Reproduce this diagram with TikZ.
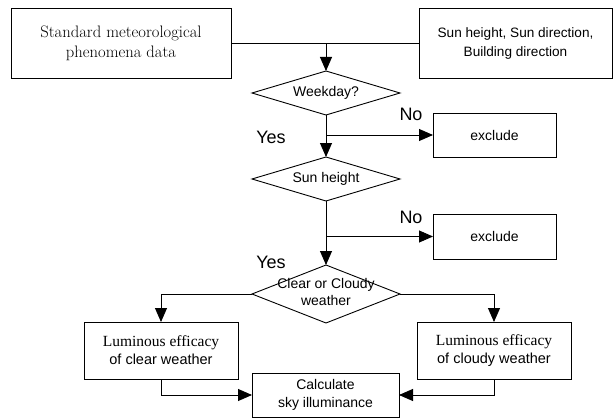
\documentclass[tikz,border=0pt]{standalone}
\usepackage{fontspec}
\newfontfamily\gothic{Liberation Sans}
\newfontfamily\timesface{Liberation Serif}
\usetikzlibrary{shapes.geometric,arrows.meta}

\tikzset{
 box/.style={draw, line width=0.9pt, inner sep=0pt, outer sep=0pt, align=center},
 decision/.style={draw, diamond, aspect=3.4, line width=0.9pt, inner sep=0pt, outer sep=0pt,
  minimum width=148pt, minimum height=44pt, align=center},
 sans/.style={font=\gothic\fontsize{14}{19}\selectfont},
 answer/.style={font=\gothic\fontsize{18}{20}\selectfont, inner sep=0pt},
 flow/.style={line width=0.9pt, -{Triangle[length=14pt,width=12pt]}},
 link/.style={line width=0.9pt}
}

\begin{document}
\begin{tikzpicture}[x=1pt,y=-1pt]
\useasboundingbox (0,0) rectangle (613,420);

\node[box, minimum width=220pt, minimum height=70pt, font=\fontsize{16.6}{20}\selectfont] (data) at (121,43.3) {Standard meteorological\\phenomena data};
\node[box, minimum width=193pt, minimum height=70pt, font=\gothic\fontsize{13.6}{19}\selectfont] (sun) at (515.5,43.3) {Sun height, Sun direction,\\Building direction};

\node[decision, sans] (weekday) at (326,93) {Weekday?};
\node[box, sans, minimum width=123pt, minimum height=44pt] (exclA) at (494.5,135) {exclude};
\node[decision, sans] (height) at (326,179) {Sun height};
\node[box, sans, minimum width=123pt, minimum height=45pt] (exclB) at (494.5,236.5) {exclude};
\node[decision, minimum height=58pt] (weather) at (326,294) {};
\node[sans, inner sep=0pt, align=center, font=\gothic\fontsize{14}{17}\selectfont] (weathertext) at (326,292) {Clear or Cloudy\\weather};

\node[box, minimum width=154pt, minimum height=57pt, font=\fontsize{15.5}{18}\selectfont] (clear) at (161,350.5) {{\timesface Luminous efficacy}\\{\gothic\fontsize{14.5}{18}\selectfont of clear weather}};
\node[box, minimum width=154pt, minimum height=57pt, font=\fontsize{15.5}{18}\selectfont] (cloudy) at (494,350.5) {{\timesface Luminous efficacy}\\{\gothic\fontsize{14.5}{18}\selectfont of cloudy weather}};
\node[box, sans, minimum width=147pt, minimum height=44pt, font=\gothic\fontsize{14}{18}\selectfont] (calc) at (325.5,395) {Calculate\\sky illuminance};

\node[answer] (noA) at (411,114) {No};
\node[answer] (yesA) at (271,137) {Yes};
\node[answer] (noB) at (411,217) {No};
\node[answer] (yesB) at (271,262) {Yes};

\coordinate (join) at (data.east -| weekday.north);
\draw[link] (data.east) -- (sun.west);
\draw[flow] (join) -- (weekday.north);
\draw[flow] (weekday.south) -- (height.north);
\draw[flow] (weekday.south |- exclA.west) -- (exclA.west);
\draw[flow] (height.south) -- (weather.north);
\draw[flow] (height.south |- exclB.west) -- (exclB.west);
\draw[flow] (weather.west) -| (clear.north);
\draw[flow] (weather.east) -| (cloudy.north);
\draw[flow] (clear.south) |- (calc.west);
\draw[flow] (cloudy.south) |- (calc.east);
\end{tikzpicture}
\end{document}
